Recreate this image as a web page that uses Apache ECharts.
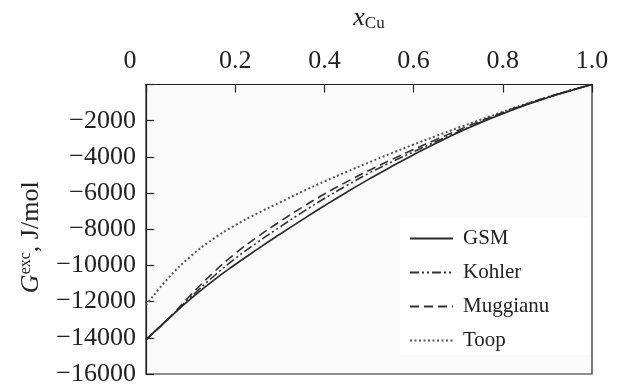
<!DOCTYPE html>
<html>
<head>
<meta charset="utf-8">
<script src="https://cdn.jsdelivr.net/npm/echarts@6/dist/echarts.min.js"></script>
<style>html,body{margin:0;padding:0;background:#fff}#c{width:618px;height:387px}</style>
</head>
<body>
<div id="c"></div>
<script>
const xCu = [0,0.05,0.1,0.15,0.2,0.25,0.3,0.35,0.4,0.45,0.5,0.55,0.6,0.65,0.7,0.75,0.8,0.85,0.9,0.95,1.0];
const gsm = [-14100,-12950,-11850,-10850,-9950,-9100,-8280,-7480,-6700,-5950,-5230,-4540,-3880,-3250,-2650,-2110,-1620,-1150,-730,-350,0];
const kohler = [-14100,-12950,-11760,-10640,-9620,-8720,-7880,-7070,-6300,-5580,-4900,-4290,-3720,-3160,-2620,-2090,-1580,-1125,-718,-345,0];
const muggianu = [-14100,-12950,-11640,-10420,-9340,-8420,-7580,-6790,-6050,-5380,-4750,-4160,-3595,-3050,-2525,-2020,-1550,-1110,-710,-340,0];
const toop = [-12200,-10700,-9500,-8550,-7780,-7120,-6520,-5920,-5360,-4825,-4305,-3805,-3320,-2850,-2395,-1950,-1510,-1090,-700,-335,0];
const seriesNames = ['GSM','Kohler','Muggianu','Toop'];
const xTickLabels = ['0','0.2','0.4','0.6','0.8','1.0'];

const pairs = arr => xCu.map((x,i)=>[x,arr[i]]);
const serif = 'Liberation Serif';
const chart = echarts.init(document.getElementById('c'), null, {renderer:'canvas'});
const styles = [
  {color:'#2a2a2a', width:1.7, type:'solid'},
  {color:'#333', width:1.6, type:[9,3,2,3,2,3]},
  {color:'#333', width:1.6, type:[9,5]},
  {color:'#555', width:2, type:[2,2.5]}
];
const datas = [gsm,kohler,muggianu,toop];
chart.setOption({
  animation:false,
  backgroundColor:'#fff',
  grid:{left:146,right:26,top:83,bottom:7,show:true,borderColor:'#222',borderWidth:1.2,backgroundColor:'#fafafa'},
  xAxis:{type:'value',position:'top',min:0,max:1,interval:0.2,
    name:'{i|x}{s|Cu}',nameLocation:'middle',nameGap:52,
    nameTextStyle:{rich:{i:{fontFamily:serif,fontStyle:'italic',fontSize:26,color:'#222'},s:{fontFamily:serif,fontSize:17,color:'#222',verticalAlign:'bottom',padding:[12,0,0,0]}}},
    axisLine:{show:true,lineStyle:{color:'#222',width:1.2}},
    axisTick:{show:true,inside:true,length:8,lineStyle:{color:'#222',width:1.2}},
    splitLine:{show:false},
    axisLabel:{margin:10,fontFamily:serif,fontSize:26,color:'#222',
      formatter:(v)=>{const i=Math.round(v/0.2);const t=xTickLabels[i];return i===0?'{z|'+t+'}':t;},
      rich:{z:{fontFamily:serif,fontSize:26,color:'#222',padding:[0,32,0,0]}}}
  },
  yAxis:{type:'value',min:-16000,max:0,interval:2000,
    name:'{g|G}{e|exc}{n|, J/mol}',nameLocation:'middle',nameRotate:90,nameGap:102,
    nameTextStyle:{padding:[0,16,0,0],rich:{g:{fontFamily:serif,fontStyle:'italic',fontSize:26,color:'#222'},e:{fontFamily:serif,fontSize:16,color:'#222',verticalAlign:'top'},n:{fontFamily:serif,fontSize:26,color:'#222'}}},
    axisLine:{show:true,lineStyle:{color:'#222',width:1.2}},
    axisTick:{show:true,inside:true,length:8,lineStyle:{color:'#222',width:1.2}},
    splitLine:{show:false},
    axisLabel:{margin:10,fontFamily:serif,fontSize:26,color:'#222',
      formatter:(v)=> v<0 ? '\u2212'+Math.abs(v) : ''}
  },
  legend:{orient:'vertical',left:400,top:218,itemWidth:43,itemHeight:14,itemGap:13,
    backgroundColor:'#fff',padding:[10,41,4,9],
    data:seriesNames,
    itemStyle:{opacity:0},
    textStyle:{fontFamily:serif,fontSize:21,color:'#222',padding:[0,0,0,5]}
  },
  series: seriesNames.map((n,k)=>({
    name:n,type:'line',data:pairs(datas[k]),smooth:true,showSymbol:false,symbol:'none',
    lineStyle:styles[k],itemStyle:{color:styles[k].color},z:10-k
  }))
});
</script>
</body>
</html>
